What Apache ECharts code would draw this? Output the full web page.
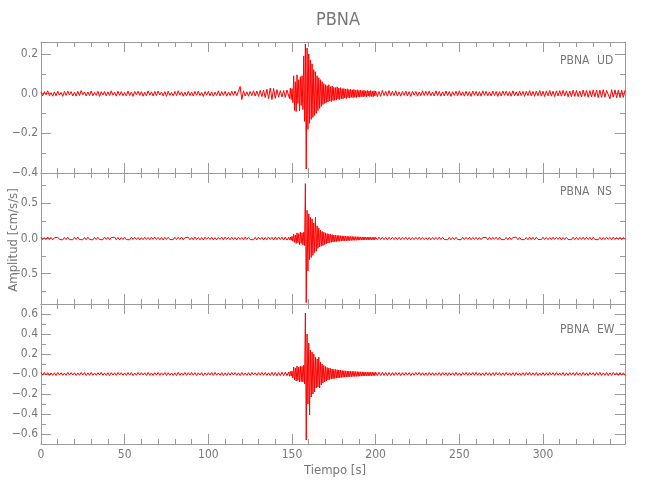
<!DOCTYPE html>
<html><head><meta charset="utf-8">
<script src="https://cdn.jsdelivr.net/npm/echarts@6/dist/echarts.min.js"></script>
<style>html,body{margin:0;background:#fff}#c{width:650px;height:500px}</style>
</head><body><div id="c"></div>
<script>
// three record segments: pre-event, event (denser sampling), post-event (seconds)
const preStart = 0, preDt = 1;
const evStart = 148, evDt = 0.5;
const postStart = 200, postDt = 1;

// UD component [cm/s/s]
const udPre = [
.008,-.012,.01,-.006,.014,-.01,.005,-.013,.009,-.011,
.012,-.008,.006,-.014,.011,-.009,.013,-.007,.01,-.012,
.007,-.013,.011,-.01,.015,-.006,.009,-.012,.008,-.01,
.013,-.011,.006,-.009,.012,-.014,.01,-.007,.011,-.012,
.009,-.01,.014,-.008,.007,-.013,.012,-.009,.01,-.011,
.006,-.012,.013,-.01,.008,-.014,.011,-.006,.012,-.009,
.01,-.013,.007,-.011,.014,-.008,.009,-.012,.011,-.01,
.013,-.007,.008,-.012,.01,-.014,.012,-.009,.006,-.011,
.011,-.01,.014,-.008,.009,-.013,.007,-.011,.012,-.01,
.008,-.012,.011,-.009,.013,-.01,.006,-.014,.01,-.008,
.012,-.011,.009,-.013,.007,-.01,.014,-.012,.01,-.009,
.011,-.013,.008,-.01,.012,-.009,.013,-.011,.012,.036,
-.03,.014,-.012,.009,-.013,.011,-.01,.014,-.012,.013,
-.014,.016,-.015,.018,-.02,.022,-.025,.028,-.03,.026,
-.024,.02,-.018,.015,-.017,.016,-.019,.018
];
const udEv = [
.02,-.025,.028,-.03,.025,-.045,.09,-.085,.06,-.09,
.095,-.05,.07,-.088,.085,-.06,.09,-.08,.19,-.14,
.25,-.38,.23,-.18,.2,-.15,.17,-.13,.15,-.12,
.12,-.11,.11,-.1,.09,-.085,.08,-.075,.07,-.065,
.06,-.055,.05,-.05,.045,-.045,.04,-.042,.045,-.038,
.035,-.04,.038,-.035,.032,-.034,.03,-.033,.034,-.028,
.028,-.03,.03,-.026,.025,-.027,.026,-.022,.022,-.025,
.024,-.02,.02,-.023,.022,-.019,.019,-.021,.021,-.018,
.017,-.02,.019,-.016,.016,-.018,.018,-.015,.015,-.017,
.017,-.014,.014,-.016,.016,-.013,.013,-.015,.015,-.014,
.012,-.016,.014,-.012
];
const udPost = [
.013,-.015,.011,-.014,.016,-.01,.012,-.013,.015,-.011,
.012,-.01,.014,-.012,.009,-.013,.011,-.009,.013,-.012,
.01,-.014,.012,-.008,.011,-.013,.009,-.011,.014,-.01,
.012,-.009,.013,-.011,.008,-.012,.014,-.01,.011,-.013,
.009,-.012,.013,-.01,.011,-.014,.01,-.009,.012,-.011,
.014,-.01,.009,-.013,.012,-.011,.01,-.014,.013,-.009,
.011,-.012,.01,-.013,.014,-.009,.012,-.011,.009,-.012,
.013,-.01,.011,-.014,.01,-.012,.013,-.009,.012,-.011,
.01,-.013,.014,-.011,.009,-.012,.013,-.01,.011,-.014,
.012,-.01,.015,-.012,.011,-.014,.013,-.011,.016,-.013,
.012,-.015,.014,-.011,.016,-.013,.012,-.015,.014,-.012,
.015,-.013,.016,-.012,.014,-.016,.013,-.015,.017,-.014,
.016,-.015,.013,-.017,.018,-.014,.016,-.018,.015,-.017,
.019,-.016,.018,-.02,.017,-.019,.02,-.018,.016,.024,
-.026,.02,-.018,.019,-.021,.017,-.02,.018,-.019,.017
];
// NS component [cm/s/s]
const nsPre = [
.016,-.018,.012,-.017,.02,-.014,.017,-.019,.011,-.015,
.018,-.012,.015,-.02,.014,-.017,.018,-.015,.012,-.018,
.017,-.014,.02,-.015,.011,-.018,.015,-.017,.018,-.012,
.014,-.02,.017,-.015,.018,-.014,.012,-.018,.02,-.015,
.017,-.018,.014,-.012,.018,-.017,.015,-.02,.014,-.015,
.02,-.015,.012,-.018,.017,-.014,.018,-.017,.015,-.02,
.012,-.017,.018,-.015,.014,-.018,.017,-.012,.02,-.015,
.015,-.018,.014,-.02,.017,-.015,.018,-.014,.012,-.017,
.018,-.015,.017,-.014,.02,-.018,.012,-.015,.017,-.018,
.014,-.017,.02,-.015,.015,-.018,.014,-.02,.018,-.012,
.017,-.015,.018,-.017,.012,-.02,.015,-.014,.018,-.017,
.02,-.014,.015,-.018,.017,-.015,.014,-.02,.018,-.015,
.015,-.017,.02,-.014,.018,-.015,.012,-.018,.017,-.02,
.018,-.015,.017,-.02,.015,-.018,.02,-.017,.018,-.021,
.02,-.018,.021,-.017,.02,-.022,.021,-.023
];
const nsEv = [
.018,-.02,.02,-.025,.03,-.04,.06,-.055,.05,-.07,
.08,-.06,.07,-.09,.09,-.07,.08,-.09,.09,-.1,
.78,-.91,.4,-.46,.35,-.3,.3,-.27,.28,-.24,
.22,-.2,.3,-.18,.18,-.14,.15,-.12,.12,-.11,
.1,-.1,.09,-.085,.08,-.075,.07,-.065,.065,-.06,
.06,-.055,.055,-.05,.05,-.048,.048,-.045,.045,-.04,
.042,-.04,.04,-.037,.038,-.035,.036,-.034,.035,-.032,
.033,-.03,.03,-.03,.03,-.028,.028,-.027,.027,-.026,
.026,-.025,.025,-.024,.024,-.023,.023,-.022,.022,-.022,
.022,-.021,.021,-.02,.02,-.021,.02,-.019,.019,-.02,
.018,-.019,.019,-.018
];
const nsPost = [
.018,-.017,.019,-.016,.018,-.017,.016,-.018,.017,-.016,
.018,-.016,.017,-.015,.016,-.018,.015,-.014,.018,-.017,
.016,-.018,.014,-.016,.017,-.013,.018,-.015,.016,-.017,
.013,-.017,.016,-.018,.015,-.016,.017,-.013,.018,-.015,
.017,-.015,.013,-.017,.016,-.018,.015,-.016,.017,-.013,
.015,-.018,.017,-.015,.016,-.013,.018,-.017,.015,-.016,
.018,-.016,.015,-.017,.013,-.015,.017,-.018,.016,-.015,
.016,-.013,.018,-.016,.017,-.015,.013,-.017,.016,-.018,
.017,-.016,.015,-.013,.018,-.017,.016,-.015,.013,-.017,
.015,-.017,.018,-.015,.016,-.018,.017,-.013,.015,-.016,
.018,-.015,.016,-.017,.013,-.016,.018,-.015,.017,-.013,
.016,-.018,.015,-.016,.017,-.015,.013,-.017,.018,-.016,
.015,-.017,.016,-.013,.018,-.016,.017,-.015,.016,-.018,
.017,-.015,.013,-.017,.016,-.018,.015,-.016,.017,-.013,
.016,-.017,.018,-.015,.015,-.016,.017,-.018,.016,-.015
];
// EW component [cm/s/s]
const ewPre = [
.014,-.012,.016,-.01,.013,-.015,.011,-.014,.012,-.016,
.015,-.011,.013,-.014,.01,-.013,.016,-.012,.014,-.01,
.012,-.015,.011,-.013,.015,-.01,.014,-.016,.012,-.013,
.016,-.012,.01,-.014,.013,-.011,.015,-.013,.011,-.015,
.013,-.016,.014,-.011,.012,-.014,.016,-.01,.013,-.012,
.011,-.014,.015,-.012,.014,-.016,.01,-.013,.015,-.011,
.014,-.01,.012,-.015,.016,-.013,.011,-.014,.013,-.012,
.015,-.013,.012,-.011,.014,-.016,.013,-.012,.01,-.014,
.012,-.015,.016,-.013,.011,-.012,.015,-.014,.013,-.011,
.016,-.012,.013,-.015,.012,-.01,.014,-.016,.011,-.013,
.013,-.011,.015,-.014,.016,-.012,.01,-.013,.014,-.015,
.011,-.016,.013,-.012,.015,-.011,.014,-.013,.012,-.016,
.015,-.013,.011,-.014,.013,-.015,.016,-.01,.012,-.014,
.014,-.012,.016,-.013,.015,-.014,.012,-.016,.017,-.015,
.016,-.018,.015,-.017,.018,-.016,.019,-.017
];
const ewEv = [
.02,-.022,.025,-.02,.03,-.04,.07,-.06,.06,-.07,
.08,-.065,.07,-.08,.08,-.075,.075,-.08,.09,-.1,
.61,-.66,.4,-.3,.31,-.41,.24,-.23,.22,-.2,
.2,-.18,.17,-.14,.15,-.13,.17,-.14,.12,-.11,
.1,-.09,.085,-.08,.075,-.07,.065,-.06,.06,-.055,
.055,-.05,.05,-.048,.047,-.045,.045,-.042,.042,-.04,
.04,-.038,.037,-.035,.035,-.033,.033,-.032,.032,-.03,
.03,-.029,.029,-.028,.028,-.027,.027,-.026,.026,-.025,
.025,-.024,.024,-.023,.023,-.022,.022,-.021,.021,-.02,
.02,-.02,.02,-.019,.019,-.019,.019,-.018,.018,-.018,
.018,-.017,.017,-.017
];
const ewPost = [
.019,-.017,.018,-.016,.017,-.015,.016,-.017,.015,-.016,
.015,-.014,.016,-.013,.015,-.016,.014,-.013,.015,-.012,
.014,-.016,.012,-.013,.015,-.011,.016,-.014,.013,-.015,
.012,-.014,.016,-.012,.013,-.015,.011,-.013,.014,-.016,
.015,-.012,.013,-.016,.014,-.011,.012,-.015,.016,-.013,
.011,-.015,.014,-.012,.016,-.014,.013,-.011,.015,-.013,
.016,-.013,.012,-.014,.011,-.016,.015,-.012,.013,-.014,
.013,-.016,.015,-.011,.014,-.013,.012,-.015,.016,-.012,
.012,-.014,.013,-.016,.015,-.012,.011,-.014,.013,-.015,
.015,-.011,.016,-.013,.012,-.014,.015,-.016,.011,-.013,
.014,-.015,.012,-.013,.016,-.011,.013,-.014,.015,-.012,
.011,-.013,.015,-.016,.012,-.014,.014,-.012,.013,-.015,
.016,-.012,.011,-.014,.015,-.013,.012,-.016,.014,-.011,
.013,-.015,.014,-.012,.016,-.014,.011,-.013,.015,-.016,
.012,-.014,.016,-.011,.013,-.015,.014,-.012,.012,-.013
];
// tick values / labels
const xTicks = [0, 50, 100, 150, 200, 250, 300];
const xTickLabels = ['0', '50', '100', '150', '200', '250', '300'];
const udTicks = [0.2, 0, -0.2, -0.4];
const udTickLabels = ['0.2', '0.0', '\u22120.2', '\u22120.4'];
const nsTicks = [0.5, 0, -0.5];
const nsTickLabels = ['0.5', '0.0', '\u22120.5'];
const ewTicks = [0.6, 0.4, 0.2, 0, -0.2, -0.4, -0.6];
const ewTickLabels = ['0.6', '0.4', '0.2', '\u22120.0', '\u22120.2', '\u22120.4', '\u22120.6'];
const station = 'PBNA';
const components = ['UD', 'NS', 'EW'];

const FONT = "'Liberation Sans Narrow','DejaVu Sans Condensed','Liberation Sans',sans-serif";
const LINE = '#9a9a9a', TXT = '#777';
const xMax = 349;
const xMinor = [];
for (let v = 10; v < xMax; v += 10) if (v % 50) xMinor.push(v);

function seg(vals, start, step) { return vals.map((v, k) => [start + k * step, v]); }
function trace(pre, ev, post) {
  return seg(pre, preStart, preDt).concat(seg(ev, evStart, evDt), seg(post, postStart, postDt));
}

const panels = [
  {top: 42, height: 131, min: -0.4, max: 0.26, ticks: udTicks, labels: udTickLabels, minor: [-0.3, -0.1, 0.1], data: trace(udPre, udEv, udPost), annY: 62},
  {top: 173, height: 131, min: -0.93, max: 0.93, ticks: nsTicks, labels: nsTickLabels, minor: [-0.75, -0.25, 0.25, 0.75], data: trace(nsPre, nsEv, nsPost), annY: 193},
  {top: 304, height: 140, min: -0.7, max: 0.7, ticks: ewTicks, labels: ewTickLabels, minor: [-0.5, -0.3, -0.1, 0.1, 0.3, 0.5], data: trace(ewPre, ewEv, ewPost), annY: 331}
];

const grid = [], xAxis = [], yAxis = [], series = [], graphic = [];
function lab(vals, labels) {
  return v => { const i = vals.findIndex(w => Math.abs(w - v) < 1e-9); return i >= 0 ? labels[i] : ''; };
}
panels.forEach((p, i) => {
  grid.push({left: 41, right: 25, top: p.top, height: p.height, containLabel: false});
  ['bottom', 'top'].forEach(pos => {
    xAxis.push({gridIndex: i, type: 'value', min: 0, max: xMax, position: pos,
      axisLine: {show: true, onZero: false, lineStyle: {color: LINE, width: 1}},
      axisTick: {show: true, inside: true, length: 10, customValues: xTicks, lineStyle: {color: LINE}},
      axisLabel: {show: pos === 'bottom' && i === 2, customValues: xTicks, formatter: lab(xTicks, xTickLabels),
        margin: 5, color: TXT, fontFamily: FONT, fontSize: 12},
      splitLine: {show: false}});
    xAxis.push({gridIndex: i, type: 'value', min: 0, max: xMax, position: pos,
      axisLine: {show: false, onZero: false},
      axisTick: {show: true, inside: true, length: 5, customValues: xMinor, lineStyle: {color: LINE}},
      axisLabel: {show: false, customValues: xMinor}, splitLine: {show: false}});
  });
  ['left', 'right'].forEach(pos => {
    yAxis.push({gridIndex: i, type: 'value', min: p.min, max: p.max, position: pos,
      axisLine: {show: true, onZero: false, lineStyle: {color: LINE, width: 1}},
      axisTick: {show: true, inside: true, length: 10, customValues: p.ticks, lineStyle: {color: LINE}},
      axisLabel: {show: pos === 'left', customValues: p.ticks, formatter: lab(p.ticks, p.labels),
        margin: 3, color: TXT, fontFamily: FONT, fontSize: 12},
      splitLine: {show: false}});
    yAxis.push({gridIndex: i, type: 'value', min: p.min, max: p.max, position: pos,
      axisLine: {show: false, onZero: false},
      axisTick: {show: true, inside: true, length: 5, customValues: p.minor, lineStyle: {color: LINE}},
      axisLabel: {show: false, customValues: p.minor}, splitLine: {show: false}});
  });
  series.push({type: 'line', xAxisIndex: i * 4, yAxisIndex: i * 4, data: p.data,
    showSymbol: false, symbol: 'none', silent: true, sampling: null,
    lineStyle: {color: '#ff0000', width: 1}, clip: true});
  graphic.push({type: 'text', left: 560, top: p.annY - 7,
    style: {text: station, fill: TXT, font: '12px ' + FONT}});
  graphic.push({type: 'text', left: 597, top: p.annY - 7,
    style: {text: components[i], fill: TXT, font: '12px ' + FONT}});
});
graphic.push({type: 'text', x: 338, y: 20, style: {text: station, fill: TXT, font: '18px ' + FONT, align: 'center', verticalAlign: 'middle'}});
graphic.push({type: 'text', x: 335, y: 471, style: {text: 'Tiempo [s]', fill: TXT, font: '13px ' + FONT, align: 'center', verticalAlign: 'middle'}});
graphic.push({type: 'text', x: 14, y: 240, rotation: Math.PI / 2, style: {text: 'Amplitud [cm/s/s]', fill: TXT, font: '13px ' + FONT, align: 'center', verticalAlign: 'middle'}});

const chart = echarts.init(document.getElementById('c'), null, {renderer: 'canvas'});
chart.setOption({animation: false, backgroundColor: '#fff', grid, xAxis, yAxis, series, graphic});
</script></body></html>
